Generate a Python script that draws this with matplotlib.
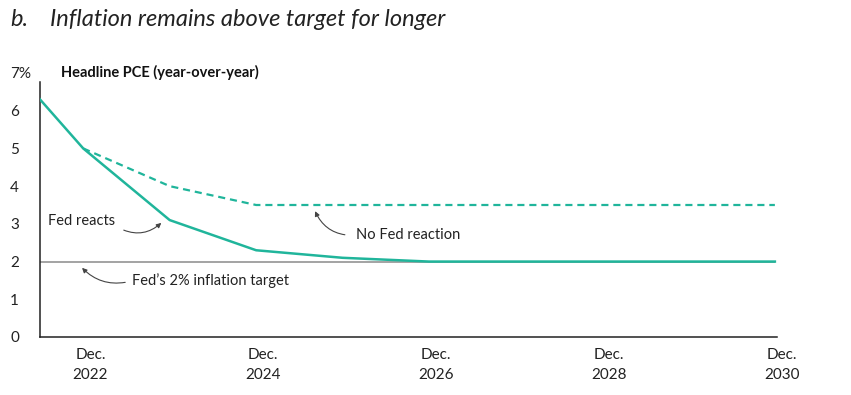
import numpy as np
import matplotlib.pyplot as plt

# quarter midpoints in decimal years: Q2 2022, then Q4 of each year
periods = [2022.375, 2022.875, 2023.875, 2024.875, 2025.875, 2026.875,
           2027.875, 2028.875, 2029.875, 2030.875]
fed_reacts = [6.3, 5.0, 3.1, 2.3, 2.1, 2.0, 2.0, 2.0, 2.0, 2.0]
no_reaction = [None, 5.0, 4.0, 3.5, 3.5, 3.5, 3.5, 3.5, 3.5, 3.5]
target = 2.0

tick_years = [2022, 2024, 2026, 2028, 2030]
tick_labels = ['Dec.\n%d' % y for y in tick_years]
yticks = [0, 1, 2, 3, 4, 5, 6, 7]
ylabels = ['0', '1', '2', '3', '4', '5', '6', '7%']

teal = '#20b59b'
plt.rcParams['font.family'] = ['Lato', 'DejaVu Sans']

fig = plt.figure(figsize=(8.51, 3.95), dpi=100)
ax = fig.add_axes([40/851, 58/395, 750/851, 264/395])

x = np.array(periods)
nr = np.array([np.nan if v is None else v for v in no_reaction], dtype=float)
ax.hlines(target, x[0], x[-1], color='#8a8a8a', lw=1.1, zorder=1)
ax.plot(x, nr, color=teal, lw=1.6, ls=(0, (3.2, 2.2)), zorder=2)
ax.plot(x, fed_reacts, color=teal, lw=1.8, zorder=3)

ax.set_xlim(2022.375, 2031.05)
ax.set_ylim(0, 7)
ax.set_yticks(yticks)
ax.set_yticklabels(ylabels)
ax.set_xticks([y + 0.958 for y in tick_years])
ax.set_xticklabels(tick_labels, linespacing=1.5)
ax.tick_params(axis='both', length=0, labelsize=11, colors='#222222')
ax.tick_params(axis='y', pad=21.5)
for lbl in ax.get_yticklabels():
    lbl.set_horizontalalignment('left')
ax.tick_params(axis='x', pad=8)

for s in ['top', 'right']:
    ax.spines[s].set_visible(False)
ax.spines['left'].set_bounds(0, 6.75)
ax.spines['bottom'].set_bounds(2022.375, 2030.9)
ax.spines['left'].set_color('#222222')
ax.spines['bottom'].set_color('#222222')
ax.spines['left'].set_linewidth(1.1)
ax.spines['bottom'].set_linewidth(1.1)

fig.text(10/851, 1 - 19/395, 'b.', fontsize=17, style='italic', va='center',
         color='#222222')
fig.text(50/851, 1 - 19/395, 'Inflation remains above target for longer', fontsize=17,
         style='italic', va='center', color='#222222')
fig.text(61/851, 1 - 72/395, 'Headline PCE (year-over-year)', fontsize=10.5,
         fontweight='bold', va='center', color='#111111')

arrow = dict(arrowstyle='-|>', color='#444444', lw=0.8, mutation_scale=7)
ax.annotate('Fed reacts', xy=(2023.79, 3.05), xytext=(2022.47, 3.08),
            fontsize=10.5, va='center', color='#222222',
            arrowprops=dict(arrow, connectionstyle='arc3,rad=0.35',
                            relpos=(1.05, 0.0), shrinkA=4, shrinkB=1))
ax.annotate('No Fed reaction', xy=(2025.55, 3.37), xytext=(2026.03, 2.7),
            fontsize=10.5, va='center', color='#222222',
            arrowprops=dict(arrow, connectionstyle='arc3,rad=-0.35',
                            relpos=(0.0, 0.5), shrinkA=6, shrinkB=1))
ax.annotate("Fed\u2019s 2% inflation target", xy=(2022.85, 1.86), xytext=(2023.44, 1.49),
            fontsize=10.5, va='center', color='#222222',
            arrowprops=dict(arrow, connectionstyle='arc3,rad=-0.3',
                            relpos=(0.0, 0.5), shrinkA=3, shrinkB=1))

fig.savefig('out.png', dpi=100)
